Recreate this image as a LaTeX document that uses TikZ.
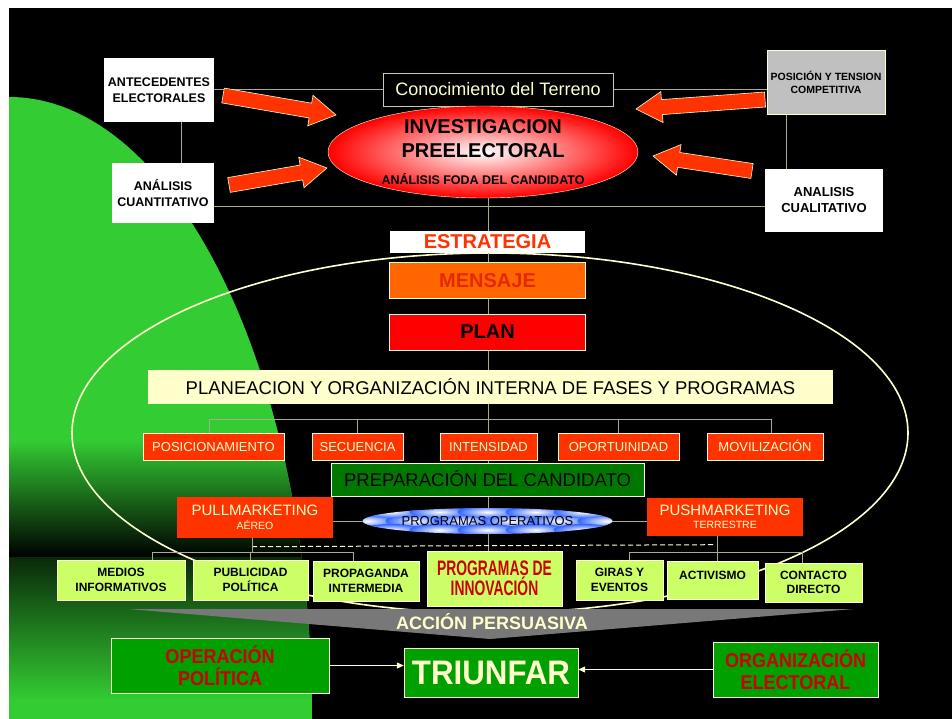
\documentclass[tikz,border=0pt]{standalone}
\usepackage{fontspec}
\setmainfont{Liberation Sans}
\usepackage{graphicx}
\usetikzlibrary{calc,positioning,shapes.geometric,arrows.meta}

\definecolor{cream}{RGB}{255,255,204}
\definecolor{linegray}{RGB}{170,170,140}
\definecolor{leafgreen}{RGB}{51,204,51}
\definecolor{redorange}{RGB}{255,51,0}
\definecolor{mensajeorange}{RGB}{255,102,0}
\definecolor{mensajered}{RGB}{230,40,0}
\definecolor{lime}{RGB}{204,255,102}
\definecolor{darkgreen}{RGB}{0,120,0}
\definecolor{boxgreen}{RGB}{0,160,0}
\definecolor{darkred}{RGB}{204,0,0}
\definecolor{silver}{RGB}{192,192,192}
\definecolor{progblue}{RGB}{51,102,255}
\definecolor{wedgegray}{RGB}{120,120,120}

\pgfdeclarelayer{back}
\pgfdeclarelayer{mid}
\pgfsetlayers{back,mid,main}

\tikzset{
  box/.style={rectangle, inner sep=0pt, align=center},
  sidebox/.style={box, fill=white, font=\fontsize{12.5}{16}\selectfont\bfseries},
  phase/.style={box, draw=cream, fill=redorange, text=cream, minimum height=27pt, text height=9.4pt, text depth=0pt, font=\fontsize{13}{15}\selectfont},
  tactic/.style={box, draw=cream, fill=lime, font=\fontsize{12}{14.5}\selectfont\bfseries},
  market/.style={box, fill=redorange, text=cream, minimum width=156pt, font=\fontsize{15}{13.5}\selectfont},
  result/.style={box, draw=cream, fill=boxgreen, minimum height=55pt},
  link/.style={draw=linegray, line width=1pt},
  pointer/.style={draw=cream, line width=1pt, -{Triangle[length=7pt,width=6pt]}},
  blockarrow/.style={draw=cream, fill=redorange, line width=0.6pt, line join=miter},
  blob/.style={inner color=white, outer color=progblue},
}

\newcommand{\fatarrow}[2]{%
  \path ($(#2)!26pt!(#1)$) coordinate (ahb);
  \filldraw[blockarrow] ($(#1)!7.5pt!90:(#2)$) -- ($(ahb)!7.5pt!90:(#2)$) -- ($(ahb)!15.5pt!90:(#2)$) -- (#2)
    -- ($(ahb)!15.5pt!-90:(#2)$) -- ($(ahb)!7.5pt!-90:(#2)$) -- ($(#1)!7.5pt!-90:(#2)$) -- cycle;}
\newcommand{\squeeze}[2]{\scalebox{#1}[1]{#2}}

\begin{document}
\begin{tikzpicture}[x=1pt,y=-1pt]
\useasboundingbox (0,0) rectangle (952,719);

\begin{pgfonlayer}{back}
\fill[white] (0,0) rectangle (952,719);
\fill[black] (9,8) rectangle (952,719);
\begin{scope}
  \clip (9,8) rectangle (952,719);
  \clip (9,719) ellipse [x radius=303, y radius=622];
  \fill[leafgreen] (9,8) rectangle (320,719);
  \shade[top color=leafgreen, bottom color=black] (9,440) rectangle (320,557);
  \shade[top color=black!80!leafgreen, bottom color=leafgreen] (9,557) rectangle (320,700);
\end{scope}
\draw[cream, line width=1.6pt] (490,433) ellipse [x radius=418, y radius=180];
\end{pgfonlayer}

\node[sidebox, minimum width=110pt, minimum height=64pt] (antec) at (159,90) {ANTECEDENTES\\ELECTORALES};
\node[sidebox, minimum width=102pt, minimum height=60pt] (cuanti) at (163,193) {ANÁLISIS\\CUANTITATIVO};
\node[sidebox, fill=silver, draw=cream, minimum width=118pt, minimum height=64pt, font=\fontsize{10.5}{13}\selectfont\bfseries] (posic) at (826,82) {POSICIÓN Y TENSION\\COMPETITIVA};
\node[sidebox, minimum width=118pt, minimum height=63pt, font=\fontsize{13}{16}\selectfont\bfseries] (cuali) at (824,200.5) {ANALISIS\\CUALITATIVO};
\node[box, draw=linegray!60!cream, fill=black, text=cream, minimum width=230pt, minimum height=33pt, font=\fontsize{18}{20}\selectfont] (terreno) at (498,89.5) {Conocimiento del Terreno};

\node[ellipse, draw=cream, inner color=white, outer color=red, minimum width=310pt, minimum height=92pt, inner sep=0pt] (invest) at (483,152) {};
\node[align=center, font=\fontsize{20}{24}\selectfont\bfseries] (investtext) at (invest.center) {INVESTIGACION\\PREELECTORAL\\[3pt]{\fontsize{12.5}{14}\selectfont ANÁLISIS FODA DEL CANDIDATO}};

\coordinate (a1s) at (223,95.5);
\coordinate (a1e) at (336,115);
\coordinate (a2s) at (229,185);
\coordinate (a2e) at (327,168);
\coordinate (a3s) at (765,99.5);
\coordinate (a3e) at (636,109);
\coordinate (a4s) at (752,171);
\coordinate (a4e) at (653,156);
\fatarrow{a1s}{a1e}
\fatarrow{a2s}{a2e}
\fatarrow{a3s}{a3e}
\fatarrow{a4s}{a4e}

\node[box, fill=white, minimum width=195pt, minimum height=22pt, text=redorange, font=\fontsize{20}{22}\selectfont\bfseries] (est) at (487.5,242) {ESTRATEGIA};
\node[box, draw=cream, fill=mensajeorange, minimum width=196pt, minimum height=36pt, text=mensajered, font=\fontsize{20}{22}\selectfont\bfseries] (mensaje) [below=9pt of est] {MENSAJE};
\node[box, draw=cream, fill=red, minimum width=196pt, minimum height=36pt, font=\fontsize{20}{22}\selectfont\bfseries] (plan) [below=15pt of mensaje] {PLAN};
\node[box, fill=cream, minimum width=685pt, minimum height=34pt, font=\fontsize{18.5}{20}\selectfont] (planea) at (490.5,387) {PLANEACION Y ORGANIZACIÓN INTERNA DE FASES Y PROGRAMAS};

\node[phase, minimum width=141pt] (posi) at (213.5,446.5) {POSICIONAMIENTO};
\node[phase, minimum width=91pt] (secu) at (357.5,446.5) {SECUENCIA};
\node[phase, minimum width=97pt] (inten) at (488.5,446.5) {INTENSIDAD};
\node[phase, minimum width=121pt] (oport) at (618.5,446.5) {OPORTUINIDAD};
\node[phase, minimum width=116pt] (movil) at (765,446.5) {MOVILIZACIÓN};

\node[box, draw=cream, fill=darkgreen, minimum width=313pt, minimum height=33pt, text height=13.3pt, text depth=0pt, font=\fontsize{18.5}{20}\selectfont] (prep) at (487.5,479.5) {PREPARACIÓN DEL CANDIDATO};
\node[ellipse, minimum width=250pt, minimum height=26pt, inner sep=0pt, font=\fontsize{13}{15}\selectfont] (progop) at (487.5,521) {PROGRAMAS OPERATIVOS};

\node[market, minimum height=41pt] (pull) at (255,517.5) {PULLMARKETING\\{\fontsize{10.5}{12}\selectfont AÉREO}};
\node[market, minimum height=38pt] (push) at (725,517) {PUSHMARKETING\\{\fontsize{10.5}{12}\selectfont TERRESTRE}};

\node[tactic, minimum width=128pt, minimum height=40pt] (medios) at (121,580) {MEDIOS\\INFORMATIVOS};
\node[tactic, minimum width=115pt, minimum height=40pt] (publi) at (250.5,580) {PUBLICIDAD\\POLÍTICA};
\node[tactic, minimum width=106pt, minimum height=40pt] (propa) at (366,581) {PROPAGANDA\\INTERMEDIA};
\node[tactic, minimum width=135pt, minimum height=55pt, text=darkred, font=\fontsize{21}{20}\selectfont\bfseries] (innov) at (494.5,578.5) {\squeeze{0.66}{PROGRAMAS DE}\\\squeeze{0.66}{INNOVACIÓN}};
\node[tactic, minimum width=87pt, minimum height=40pt] (giras) at (619.5,580) {GIRAS Y\\EVENTOS};
\node[tactic, minimum width=91pt, minimum height=38pt, text height=8.6pt, text depth=10pt] (acti) at (712.5,580) {ACTIVISMO};
\node[tactic, minimum width=97pt, minimum height=39pt] (contacto) at (813.5,582.5) {CONTACTO\\DIRECTO};

\fill[wedgegray] (128,609) -- (854,609) -- (490,639) -- cycle;
\node[text=cream, text height=12.9pt, text depth=0pt, inner sep=0pt, font=\fontsize{18}{20}\selectfont\bfseries] (accion) at (492,623) {ACCIÓN PERSUASIVA};

\node[result, minimum width=218pt, text=darkred, font=\fontsize{20}{22}\selectfont\bfseries] (opera) at (220,665.5) {\squeeze{0.9}{OPERACIÓN}\\\squeeze{0.9}{POLÍTICA}};
\node[result, minimum width=174pt, minimum height=49pt, text=cream, font=\fontsize{34}{34}\selectfont\bfseries] (triunfar) at (491,672.5) {\squeeze{0.92}{TRIUNFAR}};
\node[result, minimum width=165pt, text=darkred, font=\fontsize{20}{22}\selectfont\bfseries] (organ) at (795.5,669.5) {\squeeze{0.9}{ORGANIZACIÓN}\\\squeeze{0.9}{ELECTORAL}};

\draw[pointer] (opera.east) -- (opera.east -| triunfar.west);
\draw[pointer] (organ.west) -- (organ.west -| triunfar.east);

\begin{pgfonlayer}{mid}
\begin{scope}
  \clip (progop.center) ellipse [x radius=125, y radius=13];
  \fill[black] (progop.center) ellipse [x radius=125, y radius=13];
  \foreach \dx in {-120,-72,-24,24,72,120}
    \shade[blob] ($(progop.center)+(\dx,0)$) ellipse [x radius=30, y radius=7];
  \foreach \dx in {-96,-48,0,48,96} {
    \shade[blob] ($(progop.center)+(\dx,-9)$) ellipse [x radius=30, y radius=6];
    \shade[blob] ($(progop.center)+(\dx,9)$) ellipse [x radius=30, y radius=6];
  }
\end{scope}
\end{pgfonlayer}

\begin{pgfonlayer}{back}
\draw[link] (terreno.west) -- (terreno.west -| antec.east);
\draw[link] (terreno.east) -- (terreno.east -| posic.west);
\draw[link] ($(antec.south)+(22,0)$) -- ($(cuanti.north)+(18,0)$);
\draw[link] ($(posic.south)+(-40,0)$) -- ($(cuali.north)+(-38,0)$);
\draw[link] ($(cuanti.east)+(0,14)$) -- ($(cuali.west)+(0,6.5)$);
\draw[link] (inten |- invest.south) -- (inten |- innov.north);

\coordinate (fbar) at ($(planea.south)+(0,15)$);
\draw[link] ($(posi.north)+(-4.5,0)$) |- (fbar) -| ($(movil.north)+(6,0)$);
\draw[link] (secu.north) -- (secu.north |- fbar);
\draw[link] (oport.north) -- (oport.north |- fbar);

\draw[link] (pull.east |- progop) -- (push.west |- progop);
\coordinate (dashl) at ($(pull.south)+(-3,8.5)$);
\coordinate (dashr) at ($(push.south)+(-11,8.5)$);
\draw[cream, line width=1pt, dash pattern=on 5pt off 3pt] (dashl) -- (dashr);

\coordinate (pullj) at ($(pull.south)+(-3,14)$);
\draw[link] ($(pull.south)+(-3,0)$) -- (pullj);
\draw[link] ($(medios.north)+(31,0)$) |- (pullj) -| ($(propa.north)+(-13,0)$);
\draw[link] (publi.north) -- (publi.north |- pullj);

\coordinate (pushj) at ($(push.south)+(-8,16)$);
\draw[link] ($(push.south)+(-8,0)$) -- (pushj);
\draw[link] ($(giras.north)+(9.5,0)$) |- (pushj) -| ($(contacto.north)+(-11.5,0)$);
\draw[link] ($(acti.north)+(4.5,0)$) -- (pushj);
\end{pgfonlayer}
\end{tikzpicture}
\end{document}
